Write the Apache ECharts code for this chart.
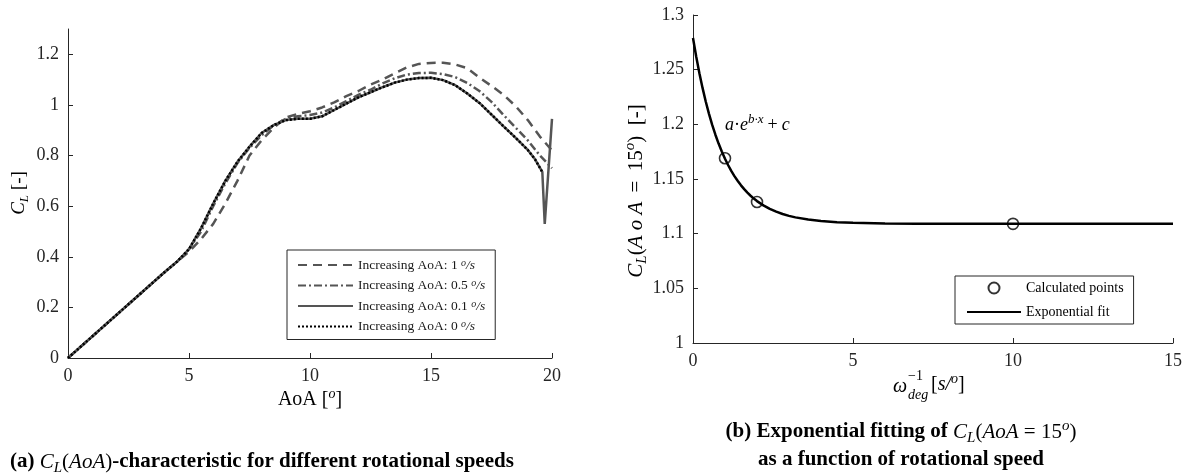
<!DOCTYPE html>
<html>
<head>
<meta charset="utf-8">
<script src="https://cdn.jsdelivr.net/npm/echarts@6/dist/echarts.min.js"></script>
<style>
  html, body { margin: 0; padding: 0; background: #fff; }
  #c { width: 1193px; height: 475px; }
</style>
</head>
<body>
<div id="c"></div>
<script>
// ---- (a) lift coefficient vs angle of attack, four sweep rates ----
const aoaSweep = [0, 1, 2, 3, 4, 4.5, 5, 5.5, 6, 6.5, 7, 7.5, 8, 8.5, 9, 9.5, 10, 10.5, 11, 11.5,
  12, 12.5, 13, 13.5, 14, 14.5, 15, 15.5, 16, 16.5, 17, 17.5, 18, 18.5, 19, 19.5, 20];
const clRate1 = [0, 0.085, 0.17, 0.255, 0.34, 0.38, 0.42, 0.47, 0.53, 0.61, 0.70, 0.80, 0.86, 0.91,
  0.95, 0.965, 0.975, 0.99, 1.01, 1.035, 1.055, 1.08, 1.10, 1.125, 1.148, 1.162, 1.166, 1.167,
  1.16, 1.145, 1.108, 1.075, 1.04, 0.995, 0.94, 0.875, 0.82];
const clRate05 = [0, 0.085, 0.17, 0.255, 0.34, 0.38, 0.43, 0.50, 0.60, 0.69, 0.77, 0.83, 0.88, 0.92,
  0.945, 0.955, 0.96, 0.97, 0.99, 1.015, 1.04, 1.06, 1.085, 1.105, 1.12, 1.126, 1.127, 1.122,
  1.11, 1.087, 1.055, 1.012, 0.96, 0.91, 0.86, 0.80, 0.75];

const aoaSlow = [0, 1, 2, 3, 4, 4.5, 5, 5.5, 6, 6.5, 7, 7.5, 8, 8.5, 9, 9.5, 10, 10.5, 11, 11.5,
  12, 12.5, 13, 13.5, 14, 14.5, 15, 15.5, 16, 16.5, 17, 17.5, 18, 18.5, 19, 19.3, 19.6, 19.7, 20];
const clRate01 = [0, 0.085, 0.17, 0.255, 0.34, 0.38, 0.43, 0.513, 0.61, 0.70, 0.775, 0.835, 0.889,
  0.92, 0.94, 0.945, 0.945, 0.955, 0.98, 1.005, 1.03, 1.05, 1.07, 1.088, 1.10, 1.106, 1.107,
  1.098, 1.078, 1.045, 1.008, 0.962, 0.915, 0.87, 0.822, 0.785, 0.735, 0.53, 0.945];

const aoaStatic = [0, 1, 2, 3, 4, 4.5, 5, 5.5, 6, 6.5, 7, 7.5, 8, 8.5, 9, 9.5, 10, 10.5, 11, 11.5,
  12, 12.5, 13, 13.5, 14, 14.5, 15, 15.5, 16, 16.5, 17, 17.5, 18, 18.5, 19, 19.3, 19.6];
const clRate0 = [0, 0.085, 0.17, 0.255, 0.34, 0.38, 0.43, 0.513, 0.61, 0.70, 0.775, 0.835, 0.889,
  0.92, 0.94, 0.945, 0.945, 0.955, 0.98, 1.005, 1.03, 1.05, 1.07, 1.088, 1.10, 1.106, 1.107,
  1.098, 1.078, 1.045, 1.008, 0.962, 0.915, 0.87, 0.822, 0.785, 0.735];

const rateNames = ['Increasing AoA: 1 °/s', 'Increasing AoA: 0.5 °/s',
  'Increasing AoA: 0.1 °/s', 'Increasing AoA: 0 °/s'];
const rateLabels = ['1', '0.5', '0.1', '0'];

const leftXTicks = [0, 5, 10, 15, 20];
const leftYTicks = [0, 0.2, 0.4, 0.6, 0.8, 1, 1.2];

// ---- (b) C_L at 15 deg vs inverse rotational speed ----
const invOmega = [0, 0.1, 0.2, 0.3, 0.4, 0.5, 0.6, 0.7, 0.8, 0.9, 1.0, 1.1, 1.2, 1.3, 1.4, 1.5,
  1.6, 1.7, 1.8, 1.9, 2.0, 2.2, 2.4, 2.6, 2.8, 3.0, 3.2, 3.6, 4.0, 4.5, 5, 6, 7, 8, 10, 12, 15];
const clFit = [1.279, 1.2621, 1.2468, 1.2331, 1.2207, 1.2096, 1.1995, 1.1905, 1.1824, 1.1751,
  1.1685, 1.1626, 1.1572, 1.1524, 1.1481, 1.1442, 1.1407, 1.1375, 1.1347, 1.1321, 1.1298,
  1.1259, 1.1227, 1.1201, 1.118, 1.1163, 1.1149, 1.1129, 1.1116, 1.1105, 1.1099, 1.1093,
  1.1091, 1.109, 1.109, 1.109, 1.109];
const calcX = [1, 2, 10];
const calcY = [1.169, 1.129, 1.109];

const rightXTicks = [0, 5, 10, 15];
const rightYTicks = [1, 1.05, 1.1, 1.15, 1.2, 1.25, 1.3];

// ---- styling ----
const SERIF = "'Liberation Serif', 'Times New Roman', serif";
const AXIS = '#262626';
const GREY = '#555555';

const pairs = (xs, ys) => xs.map((x, i) => [x, ys[i]]);

function mathRich(size, color, lh) {
  const s = Math.round(size * 0.7);
  const line = lh || size + 6;
  return {
    n: { fontFamily: SERIF, fontSize: size, lineHeight: line, color },
    i: { fontFamily: SERIF, fontSize: size, lineHeight: line, fontStyle: 'italic', color },
    sub: { fontFamily: SERIF, fontSize: s, lineHeight: s, fontStyle: 'italic', verticalAlign: 'bottom', color },
    sup: { fontFamily: SERIF, fontSize: s, lineHeight: s, fontStyle: 'italic', verticalAlign: 'top', color },
    eq: { fontFamily: SERIF, fontSize: size, lineHeight: line, color, padding: [0, 4, 0, 4] }
  };
}

function axisCommon(ticks) {
  return {
    type: 'value',
    splitLine: { show: false },
    axisLine: { show: true, onZero: false, lineStyle: { color: AXIS, width: 1 } },
    axisTick: { show: true, inside: true, length: 5, lineStyle: { color: AXIS }, customValues: ticks },
    axisLabel: { fontFamily: SERIF, fontSize: 18, color: AXIS, margin: 9, customValues: ticks }
  };
}

function lineSeries(name, xs, ys, color, dash) {
  return {
    name, type: 'line', xAxisIndex: 0, yAxisIndex: 0,
    data: pairs(xs, ys), symbol: 'none', showSymbol: false, animation: false,
    lineStyle: { color, width: 2.5, type: dash }, itemStyle: { color }
  };
}

function textEl(x, y, text, rich, opts) {
  return Object.assign({
    type: 'text', x, y, silent: true,
    style: {
      text, rich,
      align: (opts && opts.align) || 'center', textAlign: (opts && opts.align) || 'center',
      verticalAlign: 'middle', textVerticalAlign: 'middle'
    }
  }, opts && opts.rotation ? { rotation: opts.rotation } : {});
}

function capStyles(size) {
  const s = Math.round(size * 0.7);
  return {
    b: { fontFamily: SERIF, fontSize: size, fontWeight: 'bold', lineHeight: size + 6, color: '#000' },
    m: { fontFamily: SERIF, fontSize: size, fontStyle: 'italic', lineHeight: size + 6, color: '#000' },
    r: { fontFamily: SERIF, fontSize: size, lineHeight: size + 6, color: '#000' },
    sub: { fontFamily: SERIF, fontSize: s, fontStyle: 'italic', lineHeight: s, verticalAlign: 'bottom', color: '#000' },
    sup: { fontFamily: SERIF, fontSize: s, fontStyle: 'italic', lineHeight: s, verticalAlign: 'top', color: '#000' }
  };
}

const titleRich = mathRich(20, AXIS);
const smallRich = mathRich(14, AXIS);
const legendRich = {
  n: { fontFamily: SERIF, fontSize: 13.5, lineHeight: 14, color: '#1a1a1a' },
  i: { fontFamily: SERIF, fontSize: 13.5, lineHeight: 14, fontStyle: 'italic', color: '#1a1a1a' },
  sup: { fontFamily: SERIF, fontSize: 10, lineHeight: 8, fontStyle: 'italic', verticalAlign: 'top', color: '#1a1a1a' }
};

const chart = echarts.init(document.getElementById('c'), null, { renderer: 'canvas' });

chart.setOption({
  animation: false,
  backgroundColor: '#fff',
  grid: [
    { left: 68, top: 29, width: 484, height: 329 },
    { left: 693, top: 15, width: 480, height: 328 }
  ],
  xAxis: [
    Object.assign(axisCommon(leftXTicks), { gridIndex: 0, min: 0, max: 20, interval: 5 }),
    Object.assign(axisCommon(rightXTicks), { gridIndex: 1, min: 0, max: 15, interval: 5 })
  ],
  yAxis: [
    Object.assign(axisCommon(leftYTicks), { gridIndex: 0, min: 0, max: 1.3 }),
    Object.assign(axisCommon(rightYTicks), { gridIndex: 1, min: 1, max: 1.3, interval: 0.05 })
  ],
  legend: [
    {
      data: rateNames, orient: 'vertical', left: 287, top: 250,
      itemWidth: 55, itemHeight: 14, itemGap: 6.5, padding: [8, 10, 6, 10],
      borderColor: AXIS, borderWidth: 1, backgroundColor: '#fff', selectedMode: false,
      itemStyle: { opacity: 0 },
      textStyle: { fontFamily: SERIF, fontSize: 13.5, color: '#1a1a1a', rich: legendRich },
      formatter: name => {
        const v = rateLabels[rateNames.indexOf(name)];
        return '{n|Increasing AoA: ' + v + ' }{sup|o}{i|/s}';
      }
    },
    {
      data: [{ name: 'Calculated points' }, { name: 'Exponential fit', itemStyle: { opacity: 0 } }],
      orient: 'vertical', left: 955, top: 276,
      itemWidth: 54, itemHeight: 11, itemGap: 10, padding: [5, 10, 5, 11],
      borderColor: AXIS, borderWidth: 1, backgroundColor: '#fff', selectedMode: false,
      textStyle: { fontFamily: SERIF, fontSize: 14, color: '#000' }
    }
  ],
  series: [
    lineSeries(rateNames[0], aoaSweep, clRate1, GREY, [9, 6]),
    lineSeries(rateNames[1], aoaSweep, clRate05, GREY, [8, 3, 2, 3]),
    lineSeries(rateNames[2], aoaSlow, clRate01, GREY, 'solid'),
    lineSeries(rateNames[3], aoaStatic, clRate0, '#000', [2, 2]),
    {
      name: 'Exponential fit', type: 'line', xAxisIndex: 1, yAxisIndex: 1,
      data: pairs(invOmega, clFit), symbol: 'none', showSymbol: false,
      lineStyle: { color: '#000', width: 2.5 }, itemStyle: { color: '#000' }, z: 2
    },
    {
      name: 'Calculated points', type: 'scatter', xAxisIndex: 1, yAxisIndex: 1,
      data: pairs(calcX, calcY), symbol: 'circle', symbolSize: 11,
      itemStyle: { color: 'rgba(255,255,255,0)', borderColor: '#000', borderWidth: 1.6 }, z: 3
    }
  ],
  graphic: [
    // axis titles of (a)
    textEl(19, 193, '{i|C}{sub|L}{n| [-]}', mathRich(19, AXIS), { rotation: Math.PI / 2 }),
    textEl(310, 400, '{n|AoA [}{sup|o}{n|]}', titleRich),
    // axis titles of (b)
    textEl(636, 191, '{i|C}{sub|L}{n|(}{i|A o A}{eq| = }{n|15}{sup|o}{n|)  [-]}', mathRich(21, AXIS), { rotation: Math.PI / 2 }),
    textEl(907, 387, '{i|ω}', titleRich, { align: 'right' }),
    textEl(908, 376, '{n|−1}', smallRich, { align: 'left' }),
    textEl(908, 395, '{i|deg}', smallRich, { align: 'left' }),
    textEl(931, 385, '{n|[}{i|s/}{sup|o}{n|]}', titleRich, { align: 'left' }),
    // fit formula
    textEl(725, 125, '{i|a}{n|·}{i|e}{sup|b·x}{eq|+}{i|c}', mathRich(18, '#000'), { align: 'left' }),
    // captions
    textEl(10, 462, '{b|(a) }{m|C}{sub|L}{r|(}{m|AoA}{r|)}{b|-characteristic for different rotational speeds}', capStyles(21), { align: 'left' }),
    textEl(901, 432, '{b|(b) Exponential fitting of }{m|C}{sub|L}{r|(}{m|AoA}{r| = 15}{sup|o}{r|)}', capStyles(21)),
    textEl(901, 460, '{b|as a function of rotational speed}', capStyles(21))
  ]
});
</script>
</body>
</html>
